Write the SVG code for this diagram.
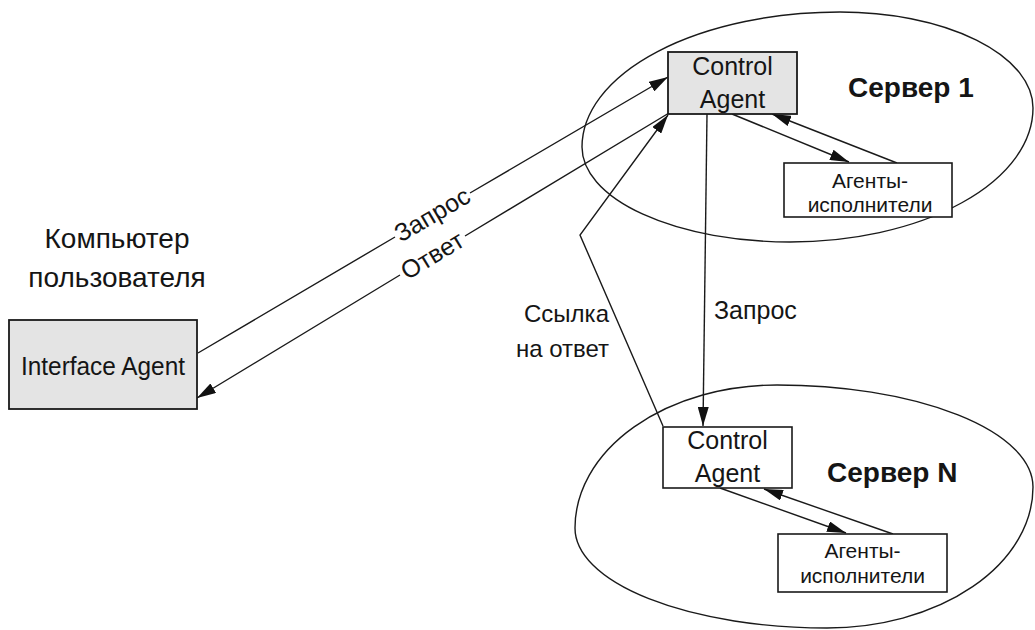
<svg xmlns="http://www.w3.org/2000/svg" width="1035" height="630" viewBox="0 0 1035 630">
<defs>
<style>
.bg{fill:#fff}
.ell{fill:none;stroke:#1a1a1a;stroke-width:1.4}
.box{fill:#fff;stroke:#1a1a1a;stroke-width:1.6}
.gbox{fill:#e4e4e4;stroke:#1a1a1a;stroke-width:1.8}
.ln{fill:none;stroke:#1a1a1a;stroke-width:1.4;marker-end:url(#ah)}
.t{font-family:"Liberation Sans",Arial,sans-serif;fill:#151515}
.t25{font-size:25px}
.t24{font-size:24px}
.t21{font-size:21px}
.t28{font-size:28px}
.srv{font-family:"Liberation Sans",Arial,sans-serif;font-size:28px;font-weight:bold;fill:#151515}
.mid{text-anchor:middle}
.end{text-anchor:end}
</style>
<marker id="ah" viewBox="0 0 19 11" refX="19" refY="5.5" markerWidth="19" markerHeight="11" markerUnits="userSpaceOnUse" orient="auto">
<path d="M0,0 L19,5.5 L0,11 Z" fill="#111"/>
</marker>
</defs>
<rect class="bg" x="0" y="0" width="1035" height="630"/>

<g id="server1">
<path class="ell" d="M582,147 A258,135 0 0 1 840,12 A193,96 0 0 1 1033,108 A243,134 0 0 1 790,242 A208,95 0 0 1 582,147 Z"/>
<text class="srv" x="848" y="97">Сервер 1</text>
</g>
<g id="serverN">
<path class="ell" d="M575,528 A202,143 0 0 1 777,385 A256,102 0 0 1 1033,487 A206,141 0 0 1 827,628 A252,100 0 0 1 575,528 Z"/>
<text class="srv" x="827" y="482">Сервер N</text>
</g>

<g id="user-computer">
<text class="t t28 mid" x="117" y="248">Компьютер</text>
<text class="t t28 mid" x="117" y="287">пользователя</text>
</g>

<g id="connectors">
<path id="c-request" class="ln" d="M198,353 L395,237 M470,193 L668,77"/>
<path id="c-answer" class="ln" d="M669,113 L465,236 M400,275 L197,398"/>
<path id="c-link" class="ln" d="M663,426 L580,235 L668,115"/>
<path id="c-request2" class="ln" d="M707,114 L703,426"/>
<path id="c-1-out" class="ln" d="M732,114 L849,162"/>
<path id="c-1-back" class="ln" d="M897,163 L772,114"/>
<path id="c-N-out" class="ln" d="M720,488 L846,533"/>
<path id="c-N-back" class="ln" d="M893,534 L764,489"/>
<text class="t t25 mid" transform="translate(432.5,215) rotate(-30.4)" x="0" y="8">Запрос</text>
<text class="t t25 mid" transform="translate(432.5,256) rotate(-31.1)" x="0" y="8">Ответ</text>
<text class="t t25" x="714" y="319">Запрос</text>
<text class="t t24 end" x="609" y="322">Ссылка</text>
<text class="t t24 end" x="609" y="357">на ответ</text>
</g>

<g id="interface-agent">
<rect class="gbox" x="9" y="320" width="188" height="89"/>
<text class="t t25 mid" x="103" y="375" textLength="164" lengthAdjust="spacingAndGlyphs">Interface Agent</text>
</g>

<g id="control-agent-1">
<rect class="gbox" x="668" y="52" width="129" height="62"/>
<text class="t t25 mid" x="732.5" y="75">Control</text>
<text class="t t25 mid" x="732.5" y="108">Agent</text>
</g>

<g id="executors-1">
<rect class="box" x="784" y="163" width="168" height="54"/>
<text class="t t21 mid" x="870" y="188">Агенты-</text>
<text class="t t21 mid" x="870" y="212">исполнители</text>
</g>

<g id="control-agent-N">
<rect class="box" x="663" y="427" width="129" height="61"/>
<text class="t t25 mid" x="727.5" y="449">Control</text>
<text class="t t25 mid" x="727.5" y="482">Agent</text>
</g>

<g id="executors-N">
<rect class="box" x="778" y="534" width="169" height="58"/>
<text class="t t21 mid" x="862.5" y="558">Агенты-</text>
<text class="t t21 mid" x="862.5" y="583">исполнители</text>
</g>
</svg>
